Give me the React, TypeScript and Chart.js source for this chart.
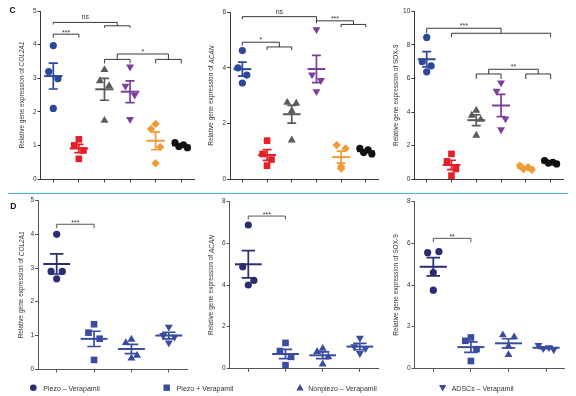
import React, { useEffect, useRef } from "react";
import { Chart, registerables } from "chart.js";

Chart.register(...registerables);

// ---------------- data ----------------
// Panel C: six groups each (Piezo–Ver, Piezo+Ver, Nonpiezo–Ver, Nonpiezo+Ver, ADSCs–Ver, ADSCs+Ver)
const C_COL2A1 = [
  [3.97, 3.2, 2.98, 2.1],
  [1.18, 1.0, 0.85, 0.6],
  [3.25, 2.92, 2.77, 1.74],
  [3.34, 2.77, 2.5, 1.78],
  [1.64, 1.49, 0.95, 0.47],
  [1.08, 1.02, 0.97, 0.93],
];
const C_ACAN = [
  [4.62, 4.0, 3.74, 3.45],
  [1.38, 0.9, 0.7, 0.48],
  [2.45, 2.75, 2.72, 1.4],
  [5.38, 3.75, 3.55, 3.15],
  [0.45, 1.22, 1.1, 0.38],
  [1.1, 1.05, 0.95, 0.9],
];
const C_SOX9 = [
  [8.45, 7.0, 6.75, 6.4],
  [1.5, 1.05, 0.6, 0.2],
  [4.1, 3.8, 3.55, 2.6],
  [5.75, 5.25, 3.6, 2.95],
  [0.8, 0.7, 0.6, 0.55],
  [1.1, 1.0, 0.95, 0.9],
];
// Panel D: four groups (legend order)
const D_COL2A1 = [
  [4.0, 2.9, 2.9, 2.68],
  [1.33, 1.08, 0.9, 0.27],
  [0.88, 0.78, 0.4, 0.32],
  [1.25, 1.0, 0.95, 0.78],
];
const D_ACAN = [
  [6.88, 4.88, 4.22, 4.0],
  [1.22, 0.83, 0.55, 0.15],
  [0.95, 0.8, 0.55, 0.2],
  [1.45, 1.05, 0.95, 0.72],
];
const D_SOX9 = [
  [4.6, 5.55, 5.6, 3.75],
  [1.48, 1.32, 0.92, 0.35],
  [1.05, 1.6, 1.5, 0.65],
  [1.1, 1.0, 0.95, 0.9],
];

// significance brackets: [fromGroup, toGroup, level, leftLegEnd, rightLegEnd]
type Bracket = [number, number, number, number, number];
type Label = [string, number, number];
const C_COL2A1_BRACKETS: Bracket[] = [
  [1, 2, 4.31, 4.21, 4.21],
  [1, 3.5, 4.66, 4.6, 4.56],
  [3, 4, 4.56, 4.5, 4.5],
  [3.5, 5.5, 3.72, 3.56, 3.56],
  [3, 4, 3.56, 3.44, 3.44],
  [5, 6, 3.56, 3.44, 3.44],
];
const C_COL2A1_LABELS: Label[] = [["***", 1.5, 4.3], ["ns", 2.25, 4.76], ["*", 4.5, 3.72]];
const C_ACAN_BRACKETS: Bracket[] = [
  [1, 4, 5.84, 5.75, 5.69],
  [4, 5.5, 5.69, 5.6, 5.56],
  [5, 6, 5.56, 5.46, 5.46],
  [1, 2.5, 4.92, 4.8, 4.75],
  [2, 3, 4.75, 4.64, 4.64],
];
const C_ACAN_LABELS: Label[] = [["ns", 2.5, 5.92], ["***", 4.75, 5.7], ["*", 1.75, 4.92]];
const C_SOX9_BRACKETS: Bracket[] = [
  [1, 4, 9.0, 8.7, 8.7],
  [2, 6, 8.7, 8.46, 8.46],
  [3.5, 5.5, 6.55, 6.27, 6.27],
  [3, 4, 6.27, 5.97, 5.97],
  [5, 6, 6.27, 5.97, 5.97],
];
const C_SOX9_LABELS: Label[] = [["***", 2.5, 9.03], ["**", 4.5, 6.57]];
const D_COL2A1_BRACKETS: Bracket[] = [[1, 2, 4.3, 4.18, 4.18]];
const D_COL2A1_LABELS: Label[] = [["***", 1.5, 4.27]];
const D_ACAN_BRACKETS: Bracket[] = [[1, 2, 7.31, 7.15, 7.15]];
const D_ACAN_LABELS: Label[] = [["***", 1.5, 7.27]];
const D_SOX9_BRACKETS: Bracket[] = [[1, 2, 6.24, 6.05, 6.05]];
const D_SOX9_LABELS: Label[] = [["**", 1.5, 6.22]];

const LEGEND_LABELS = ["Piezo – Verapamil", "Piezo + Verapamil", "Nonpiezo – Verapamil", "ADSCs – Verapamil"];
const TITLE_PREFIX = "Relative gene expression of ";

// ---------------- styles ----------------
const FONT = '"Liberation Sans", Arial, sans-serif';
const C_COLORS = ["#2d479c", "#e41f26", "#5a5a5a", "#7b3f9e", "#f29a38", "#111111"];
const C_STYLES = ["circle", "rect", "triangle", "triangleDown", "rectRot", "circle"];
const NAVY = "#2b2d72";
const BLUE = "#3a4ca0";
const D_COLORS = [NAVY, BLUE, BLUE, BLUE];
const D_STYLES = ["circle", "rect", "triangle", "triangleDown"];
const YW = 30;
const XH = 6;

interface PanelSpec {
  groups: number[][];
  colors: string[];
  styles: string[];
  yMax: number;
  yStep: number;
  area: [number, number, number, number];
  titleX: number;
  gene: string;
  italic: boolean;
  brackets: Bracket[];
  labels: Label[];
  axisColor: string;
  lineColor: string;
  jitter: number;
}

const PANELS: PanelSpec[] = [
  { groups: C_COL2A1, colors: C_COLORS, styles: C_STYLES, yMax: 5, yStep: 1, area: [40.5, 11, 194, 179], titleX: 22.5, gene: "COL2A1", italic: true, brackets: C_COL2A1_BRACKETS, labels: C_COL2A1_LABELS, axisColor: "#3a3a3a", lineColor: "#222", jitter: 0.18 },
  { groups: C_ACAN, colors: C_COLORS, styles: C_STYLES, yMax: 6, yStep: 2, area: [230, 12.2, 378.2, 179], titleX: 211.7, gene: "ACAN", italic: true, brackets: C_ACAN_BRACKETS, labels: C_ACAN_LABELS, axisColor: "#3a3a3a", lineColor: "#222", jitter: 0.18 },
  { groups: C_SOX9, colors: C_COLORS, styles: C_STYLES, yMax: 10, yStep: 2, area: [414.3, 11.5, 563, 179], titleX: 396.7, gene: "SOX-9", italic: false, brackets: C_SOX9_BRACKETS, labels: C_SOX9_LABELS, axisColor: "#3a3a3a", lineColor: "#222", jitter: 0.18 },
  { groups: D_COL2A1, colors: D_COLORS, styles: D_STYLES, yMax: 5, yStep: 1, area: [38, 200.7, 187.5, 369], titleX: 21.7, gene: "COL2A1", italic: true, brackets: D_COL2A1_BRACKETS, labels: D_COL2A1_LABELS, axisColor: "#555", lineColor: "#444", jitter: 0.15 },
  { groups: D_ACAN, colors: D_COLORS, styles: D_STYLES, yMax: 8, yStep: 2, area: [229.7, 201.7, 378.5, 368.3], titleX: 211.7, gene: "ACAN", italic: true, brackets: D_ACAN_BRACKETS, labels: D_ACAN_LABELS, axisColor: "#555", lineColor: "#444", jitter: 0.15 },
  { groups: D_SOX9, colors: D_COLORS, styles: D_STYLES, yMax: 8, yStep: 2, area: [414.5, 201.7, 564.9, 368.3], titleX: 396.7, gene: "SOX-9", italic: false, brackets: D_SOX9_BRACKETS, labels: D_SOX9_LABELS, axisColor: "#555", lineColor: "#444", jitter: 0.15 },
];

function jitterOffsets(vals: number[], yMax: number, j: number): number[] {
  const range = Math.max(...vals) - Math.min(...vals);
  const pattern = range / yMax < 0.06 ? [-1.35, 0.5, -0.5, 1.35] : [0, -1, 1, 0];
  return vals.map((_, k) => pattern[k % 4] * j);
}

function pointProps(style: string) {
  switch (style) {
    case "rect":
      return { pointStyle: "rect", pointRadius: 4.7, pointRotation: 0 };
    case "triangle":
      return { pointStyle: "triangle", pointRadius: 4.6, pointRotation: 0 };
    case "triangleDown":
      return { pointStyle: "triangle", pointRadius: 4.6, pointRotation: 180 };
    case "rectRot":
      return { pointStyle: "rectRot", pointRadius: 4.2, pointRotation: 0 };
    default:
      return { pointStyle: "circle", pointRadius: 3.6, pointRotation: 0 };
  }
}

function Panel({ spec }: { spec: PanelSpec }) {
  const ref = useRef<HTMLCanvasElement | null>(null);
  useEffect(() => {
    if (!ref.current) return;
    const [l, t, r, b] = spec.area;
    const n = spec.groups.length;
    const overlay = {
      id: "overlay",
      afterDatasetsDraw(chart: any) {
        const { ctx } = chart;
        const xs = chart.scales.x;
        const ys = chart.scales.y;
        ctx.save();
        // mean ± SEM
        spec.groups.forEach((vals, gi) => {
          const m = vals.reduce((a, v) => a + v, 0) / vals.length;
          const sd = Math.sqrt(vals.reduce((a, v) => a + (v - m) * (v - m), 0) / (vals.length - 1));
          const sem = sd / Math.sqrt(vals.length);
          const cx = xs.getPixelForValue(gi + 1);
          const hw = xs.getPixelForValue(gi + 1.36) - cx;
          const cw = xs.getPixelForValue(gi + 1.18) - cx;
          const ym = ys.getPixelForValue(m);
          const yh = ys.getPixelForValue(m + sem);
          const yl = ys.getPixelForValue(m - sem);
          ctx.strokeStyle = spec.colors[gi];
          ctx.lineCap = "butt";
          ctx.lineWidth = 2;
          ctx.beginPath();
          ctx.moveTo(cx - hw, ym);
          ctx.lineTo(cx + hw, ym);
          ctx.stroke();
          ctx.lineWidth = 1.7;
          ctx.beginPath();
          ctx.moveTo(cx, yh);
          ctx.lineTo(cx, yl);
          ctx.moveTo(cx - cw, yh);
          ctx.lineTo(cx + cw, yh);
          ctx.moveTo(cx - cw, yl);
          ctx.lineTo(cx + cw, yl);
          ctx.stroke();
        });
        // brackets
        ctx.strokeStyle = spec.lineColor;
        ctx.lineWidth = 0.9;
        spec.brackets.forEach(([x1, x2, yv, yLeft, yRight]) => {
          const px1 = xs.getPixelForValue(x1);
          const px2 = xs.getPixelForValue(x2);
          const py = ys.getPixelForValue(yv);
          ctx.beginPath();
          ctx.moveTo(px1, ys.getPixelForValue(yLeft));
          ctx.lineTo(px1, py);
          ctx.lineTo(px2, py);
          ctx.lineTo(px2, ys.getPixelForValue(yRight));
          ctx.stroke();
        });
        ctx.fillStyle = "#333";
        ctx.font = `7px ${FONT}`;
        ctx.textAlign = "center";
        ctx.textBaseline = "alphabetic";
        spec.labels.forEach(([txt, x, y]) => {
          ctx.fillText(txt, xs.getPixelForValue(x), ys.getPixelForValue(y));
        });
        // axis title with italic gene name
        const cy = (t + b) / 2;
        ctx.translate(spec.titleX, cy);
        ctx.rotate(-Math.PI / 2);
        ctx.textBaseline = "middle";
        ctx.textAlign = "left";
        const normal = `6.5px ${FONT}`;
        const geneFont = spec.italic ? `italic 6.5px ${FONT}` : normal;
        ctx.font = normal;
        const w1 = ctx.measureText(TITLE_PREFIX).width;
        ctx.font = geneFont;
        const w2 = ctx.measureText(spec.gene).width;
        const x0 = -(w1 + w2) / 2;
        ctx.font = normal;
        ctx.fillText(TITLE_PREFIX, x0, 0);
        ctx.font = geneFont;
        ctx.fillText(spec.gene, x0 + w1, 0);
        ctx.restore();
      },
    };
    const chart = new Chart(ref.current, {
      type: "scatter",
      data: {
        datasets: spec.groups.map((vals, gi) => {
          const offs = jitterOffsets(vals, spec.yMax, spec.jitter);
          return {
            data: vals.map((v, k) => ({ x: gi + 1 + offs[k], y: v })),
            backgroundColor: spec.colors[gi],
            borderColor: spec.colors[gi],
            borderWidth: 0,
            clip: false,
            ...pointProps(spec.styles[gi]),
          } as any;
        }),
      },
      options: {
        responsive: false,
        animation: false,
        devicePixelRatio: 1,
        events: [],
        layout: { padding: { left: l - YW, top: t, right: 576 - r, bottom: 396 - b - XH } },
        plugins: { legend: { display: false }, tooltip: { enabled: false }, title: { display: false } },
        scales: {
          x: {
            type: "linear",
            min: 0.5,
            max: n + 0.5,
            afterBuildTicks: (s: any) => {
              s.ticks = spec.groups.map((_, i) => ({ value: i + 1 }));
            },
            afterFit: (s: any) => {
              s.height = XH;
            },
            ticks: { display: false },
            grid: { drawOnChartArea: false, drawTicks: true, tickLength: 3.5, color: spec.axisColor, lineWidth: 1 },
            border: { display: true, color: spec.axisColor, width: 1 },
          },
          y: {
            type: "linear",
            min: 0,
            max: spec.yMax,
            afterFit: (s: any) => {
              s.width = YW;
            },
            ticks: { stepSize: spec.yStep, font: { size: 6.5, family: FONT }, color: "#333", padding: 1 },
            grid: { drawOnChartArea: false, drawTicks: true, tickLength: 3, color: spec.axisColor, lineWidth: 1 },
            border: { display: true, color: spec.axisColor, width: 1 },
          },
        },
      } as any,
      plugins: [overlay],
    });
    return () => chart.destroy();
  }, [spec]);
  return <canvas ref={ref} width={576} height={396} style={{ position: "absolute", left: 0, top: 0 }} />;
}

export default function App() {
  const legendX = [33.3, 166.7, 300, 442.7];
  const textX = [43.3, 176.7, 308.3, 451.7];
  const ly = 387.7;
  return (
    <div
      style={{
        position: "absolute",
        left: 0,
        top: 0,
        width: 576,
        height: 396,
        background: "#fff",
        overflow: "hidden",
        fontFamily: FONT,
      }}
    >
      <svg width={576} height={396} style={{ position: "absolute", left: 0, top: 0 }}>
        <line x1={8} x2={568} y1={193.5} y2={193.5} stroke="#45b5d5" strokeWidth={1.2} />
        <circle cx={legendX[0]} cy={ly} r={3.3} fill={NAVY} />
        <rect x={legendX[1] - 3.2} y={ly - 3.2} width={6.4} height={6.4} fill={BLUE} />
        <polygon
          points={`${legendX[2]},${ly - 3.7} ${legendX[2] + 3.7},${ly + 2.8} ${legendX[2] - 3.7},${ly + 2.8}`}
          fill={BLUE}
        />
        <polygon
          points={`${legendX[3]},${ly + 3.7} ${legendX[3] + 3.7},${ly - 2.8} ${legendX[3] - 3.7},${ly - 2.8}`}
          fill={BLUE}
        />
      </svg>
      {PANELS.map((p, i) => (
        <Panel key={i} spec={p} />
      ))}
      <div style={{ position: "absolute", left: 9.5, top: 5.6, fontSize: 8.5, lineHeight: "8.5px", fontWeight: "bold", color: "#111" }}>C</div>
      <div style={{ position: "absolute", left: 10.3, top: 201.6, fontSize: 8.5, lineHeight: "8.5px", fontWeight: "bold", color: "#111" }}>D</div>
      {LEGEND_LABELS.map((s, i) => (
        <div
          key={s}
          style={{ position: "absolute", left: textX[i], top: 384.6, fontSize: 7, lineHeight: "7px", color: "#333", whiteSpace: "nowrap" }}
        >
          {s}
        </div>
      ))}
    </div>
  );
}
